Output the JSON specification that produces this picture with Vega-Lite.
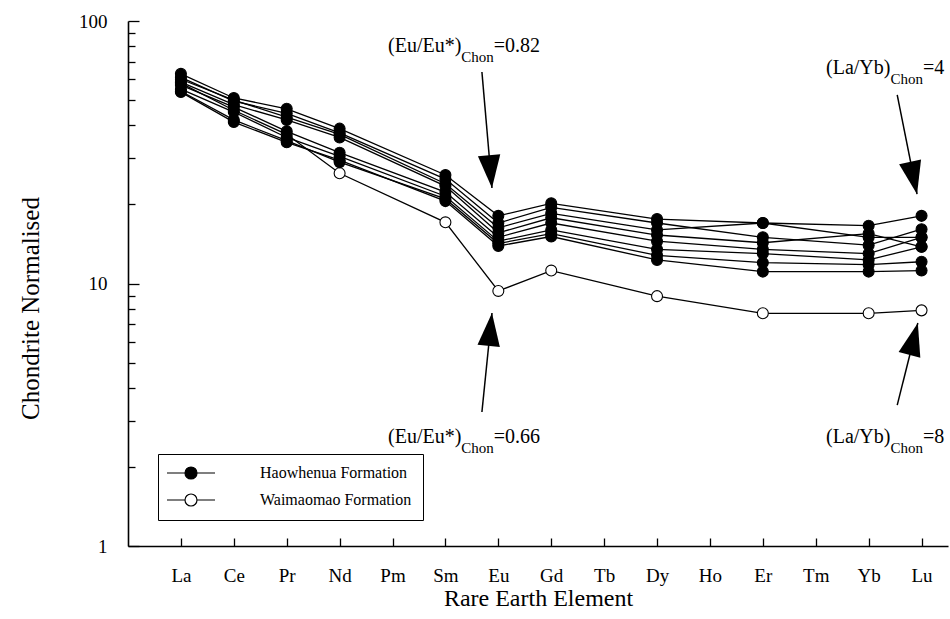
{
  "$schema": "https://vega.github.io/schema/vega-lite/v6.json",
  "autosize": "none",
  "width": 820,
  "height": 525,
  "padding": {"left": 128, "top": 21, "right": 2, "bottom": 73},
  "background": "white",
  "config": {
    "font": "Liberation Serif",
    "view": {"stroke": null},
    "axis": {"labelFont": "Liberation Serif", "titleFont": "Liberation Serif"},
    "legend": {"labelFont": "Liberation Serif"},
    "text": {"font": "Liberation Serif"}
  },
  "datasets": {
    "ree": [
      {"sample":"W1","formation":"Waimaomao Formation","Z":57,"value":58.0},{"sample":"W1","formation":"Waimaomao Formation","Z":58,"value":45.7},{"sample":"W1","formation":"Waimaomao Formation","Z":59,"value":37.0},{"sample":"W1","formation":"Waimaomao Formation","Z":60,"value":26.3},{"sample":"W1","formation":"Waimaomao Formation","Z":62,"value":17.1},{"sample":"W1","formation":"Waimaomao Formation","Z":63,"value":9.37},{"sample":"W1","formation":"Waimaomao Formation","Z":64,"value":11.2},{"sample":"W1","formation":"Waimaomao Formation","Z":66,"value":8.95},{"sample":"W1","formation":"Waimaomao Formation","Z":68,"value":7.7},{"sample":"W1","formation":"Waimaomao Formation","Z":70,"value":7.7},{"sample":"W1","formation":"Waimaomao Formation","Z":71,"value":7.9},
      {"sample":"H1","formation":"Haowhenua Formation","Z":57,"value":62.9},{"sample":"H1","formation":"Haowhenua Formation","Z":58,"value":50.9},{"sample":"H1","formation":"Haowhenua Formation","Z":59,"value":46.3},{"sample":"H1","formation":"Haowhenua Formation","Z":60,"value":38.9},{"sample":"H1","formation":"Haowhenua Formation","Z":62,"value":25.9},{"sample":"H1","formation":"Haowhenua Formation","Z":63,"value":18.1},{"sample":"H1","formation":"Haowhenua Formation","Z":64,"value":20.2},{"sample":"H1","formation":"Haowhenua Formation","Z":66,"value":17.6},{"sample":"H1","formation":"Haowhenua Formation","Z":68,"value":17.0},{"sample":"H1","formation":"Haowhenua Formation","Z":70,"value":16.6},{"sample":"H1","formation":"Haowhenua Formation","Z":71,"value":18.1},
      {"sample":"H2","formation":"Haowhenua Formation","Z":57,"value":61.0},{"sample":"H2","formation":"Haowhenua Formation","Z":58,"value":49.5},{"sample":"H2","formation":"Haowhenua Formation","Z":59,"value":44.5},{"sample":"H2","formation":"Haowhenua Formation","Z":60,"value":37.5},{"sample":"H2","formation":"Haowhenua Formation","Z":62,"value":25.0},{"sample":"H2","formation":"Haowhenua Formation","Z":63,"value":17.0},{"sample":"H2","formation":"Haowhenua Formation","Z":64,"value":19.5},{"sample":"H2","formation":"Haowhenua Formation","Z":66,"value":17.0},{"sample":"H2","formation":"Haowhenua Formation","Z":68,"value":15.0},{"sample":"H2","formation":"Haowhenua Formation","Z":70,"value":14.0},{"sample":"H2","formation":"Haowhenua Formation","Z":71,"value":16.1},
      {"sample":"H3","formation":"Haowhenua Formation","Z":57,"value":60.0},{"sample":"H3","formation":"Haowhenua Formation","Z":58,"value":50.0},{"sample":"H3","formation":"Haowhenua Formation","Z":59,"value":43.0},{"sample":"H3","formation":"Haowhenua Formation","Z":60,"value":37.0},{"sample":"H3","formation":"Haowhenua Formation","Z":62,"value":24.0},{"sample":"H3","formation":"Haowhenua Formation","Z":63,"value":16.3},{"sample":"H3","formation":"Haowhenua Formation","Z":64,"value":18.5},{"sample":"H3","formation":"Haowhenua Formation","Z":66,"value":16.0},{"sample":"H3","formation":"Haowhenua Formation","Z":68,"value":17.0},{"sample":"H3","formation":"Haowhenua Formation","Z":70,"value":15.0},{"sample":"H3","formation":"Haowhenua Formation","Z":71,"value":15.0},
      {"sample":"H4","formation":"Haowhenua Formation","Z":57,"value":58.5},{"sample":"H4","formation":"Haowhenua Formation","Z":58,"value":48.0},{"sample":"H4","formation":"Haowhenua Formation","Z":59,"value":42.0},{"sample":"H4","formation":"Haowhenua Formation","Z":60,"value":36.0},{"sample":"H4","formation":"Haowhenua Formation","Z":62,"value":23.5},{"sample":"H4","formation":"Haowhenua Formation","Z":63,"value":15.6},{"sample":"H4","formation":"Haowhenua Formation","Z":64,"value":17.8},{"sample":"H4","formation":"Haowhenua Formation","Z":66,"value":15.3},{"sample":"H4","formation":"Haowhenua Formation","Z":68,"value":14.3},{"sample":"H4","formation":"Haowhenua Formation","Z":70,"value":15.5},{"sample":"H4","formation":"Haowhenua Formation","Z":71,"value":13.8},
      {"sample":"H5","formation":"Haowhenua Formation","Z":57,"value":57.0},{"sample":"H5","formation":"Haowhenua Formation","Z":58,"value":47.0},{"sample":"H5","formation":"Haowhenua Formation","Z":59,"value":38.0},{"sample":"H5","formation":"Haowhenua Formation","Z":60,"value":31.5},{"sample":"H5","formation":"Haowhenua Formation","Z":62,"value":22.3},{"sample":"H5","formation":"Haowhenua Formation","Z":63,"value":15.0},{"sample":"H5","formation":"Haowhenua Formation","Z":64,"value":17.0},{"sample":"H5","formation":"Haowhenua Formation","Z":66,"value":14.5},{"sample":"H5","formation":"Haowhenua Formation","Z":68,"value":13.5},{"sample":"H5","formation":"Haowhenua Formation","Z":70,"value":13.0},{"sample":"H5","formation":"Haowhenua Formation","Z":71,"value":15.0},
      {"sample":"H6","formation":"Haowhenua Formation","Z":57,"value":55.0},{"sample":"H6","formation":"Haowhenua Formation","Z":58,"value":45.0},{"sample":"H6","formation":"Haowhenua Formation","Z":59,"value":36.0},{"sample":"H6","formation":"Haowhenua Formation","Z":60,"value":30.5},{"sample":"H6","formation":"Haowhenua Formation","Z":62,"value":21.5},{"sample":"H6","formation":"Haowhenua Formation","Z":63,"value":14.5},{"sample":"H6","formation":"Haowhenua Formation","Z":64,"value":16.0},{"sample":"H6","formation":"Haowhenua Formation","Z":66,"value":13.5},{"sample":"H6","formation":"Haowhenua Formation","Z":68,"value":13.0},{"sample":"H6","formation":"Haowhenua Formation","Z":70,"value":12.3},{"sample":"H6","formation":"Haowhenua Formation","Z":71,"value":13.8},
      {"sample":"H7","formation":"Haowhenua Formation","Z":57,"value":54.0},{"sample":"H7","formation":"Haowhenua Formation","Z":58,"value":42.0},{"sample":"H7","formation":"Haowhenua Formation","Z":59,"value":35.0},{"sample":"H7","formation":"Haowhenua Formation","Z":60,"value":29.0},{"sample":"H7","formation":"Haowhenua Formation","Z":62,"value":21.0},{"sample":"H7","formation":"Haowhenua Formation","Z":63,"value":14.2},{"sample":"H7","formation":"Haowhenua Formation","Z":64,"value":15.5},{"sample":"H7","formation":"Haowhenua Formation","Z":66,"value":12.8},{"sample":"H7","formation":"Haowhenua Formation","Z":68,"value":12.0},{"sample":"H7","formation":"Haowhenua Formation","Z":70,"value":11.8},{"sample":"H7","formation":"Haowhenua Formation","Z":71,"value":12.1},
      {"sample":"H8","formation":"Haowhenua Formation","Z":57,"value":53.6},{"sample":"H8","formation":"Haowhenua Formation","Z":58,"value":41.2},{"sample":"H8","formation":"Haowhenua Formation","Z":59,"value":34.5},{"sample":"H8","formation":"Haowhenua Formation","Z":60,"value":29.5},{"sample":"H8","formation":"Haowhenua Formation","Z":62,"value":20.6},{"sample":"H8","formation":"Haowhenua Formation","Z":63,"value":13.9},{"sample":"H8","formation":"Haowhenua Formation","Z":64,"value":15.1},{"sample":"H8","formation":"Haowhenua Formation","Z":66,"value":12.3},{"sample":"H8","formation":"Haowhenua Formation","Z":68,"value":11.1},{"sample":"H8","formation":"Haowhenua Formation","Z":70,"value":11.1},{"sample":"H8","formation":"Haowhenua Formation","Z":71,"value":11.2}
    ],
    "notes": [
      {"id":"eu_top","part":"main","text":"(Eu/Eu*)","Z":60.915,"value":80.3},
      {"id":"eu_top","part":"sub","text":"Chon","Z":62.30,"value":72.9},
      {"id":"eu_top","part":"tail","text":"=0.82","Z":62.915,"value":80.3},
      {"id":"eu_bot","part":"main","text":"(Eu/Eu*)","Z":60.915,"value":2.60},
      {"id":"eu_bot","part":"sub","text":"Chon","Z":62.30,"value":2.36},
      {"id":"eu_bot","part":"tail","text":"=0.66","Z":62.915,"value":2.60},
      {"id":"layb_top","part":"main","text":"(La/Yb)","Z":69.195,"value":66.2},
      {"id":"layb_top","part":"sub","text":"Chon","Z":70.412,"value":60.1},
      {"id":"layb_top","part":"tail","text":"=4","Z":71.026,"value":66.2},
      {"id":"layb_bot","part":"main","text":"(La/Yb)","Z":69.195,"value":2.60},
      {"id":"layb_bot","part":"sub","text":"Chon","Z":70.412,"value":2.36},
      {"id":"layb_bot","part":"tail","text":"=8","Z":71.026,"value":2.60}
    ],
    "arrows": [
      {"id":"eu_top","Z1":62.69,"v1":63.9,"Z2":62.88,"v2":23.1},
      {"id":"eu_bot","Z1":62.69,"v1":3.24,"Z2":62.88,"v2":7.72},
      {"id":"layb_top","Z1":70.54,"v1":52.3,"Z2":70.915,"v2":21.9},
      {"id":"layb_bot","Z1":70.54,"v1":3.44,"Z2":70.93,"v2":7.07}
    ]
  },
  "layer": [
    {
      "data": {"name": "ree"},
      "mark": {"type": "line", "color": "black", "strokeWidth": 1.3},
      "encoding": {
        "x": {"field": "Z", "type": "quantitative",
          "scale": {"domain": [56, 71.5], "nice": false, "zero": false},
          "axis": {
            "values": [57,58,59,60,61,62,63,64,65,66,67,68,69,70,71],
            "labelExpr": "['La','Ce','Pr','Nd','Pm','Sm','Eu','Gd','Tb','Dy','Ho','Er','Tm','Yb','Lu'][datum.value-57]",
            "title": "Rare Earth Element", "grid": false,
            "tickSize": -8, "tickColor": "black", "tickWidth": 1.3,
            "domainColor": "black", "domainWidth": 1.6,
            "labelFont": "Liberation Serif", "labelFontSize": 19, "labelColor": "black",
            "labelPadding": 28, "labelFlush": false, "labelOverlap": false,
            "titleFont": "Liberation Serif", "titleFontSize": 24, "titleFontWeight": "normal", "titleColor": "black",
            "titleBaseline": "middle", "titleY": 52
          }},
        "y": {"field": "value", "type": "quantitative",
          "scale": {"type": "log", "domain": [1, 100], "nice": false},
          "axis": {
            "values": [1,2,3,4,5,6,7,8,9,10,20,30,40,50,60,70,80,90,100],
            "labelExpr": "datum.value == 1 ? '1' : datum.value == 10 ? '10' : datum.value == 100 ? '100' : ''",
            "title": "Chondrite Normalised", "grid": false,
            "tickSize": {"condition": {"test": "datum.value == 1 || datum.value == 10 || datum.value == 100", "value": -11}, "value": -7},
            "tickColor": "black", "tickWidth": 1.3,
            "domainColor": "black", "domainWidth": 1.6,
            "labelFont": "Liberation Serif", "labelFontSize": 19, "labelColor": "black",
            "labelPadding": 32, "labelFlush": false, "labelOverlap": false,
            "titleFont": "Liberation Serif", "titleFontSize": 25, "titleFontWeight": "normal", "titleColor": "black",
            "titleBaseline": "middle", "titleX": -98, "titleY": 287
          }},
        "detail": {"field": "sample"}
      }
    },
    {
      "data": {"name": "ree"},
      "mark": {"type": "point", "shape": "circle", "filled": true, "stroke": "black", "strokeWidth": 1.1, "opacity": 1, "size": 120},
      "encoding": {
        "x": {"field": "Z", "type": "quantitative"},
        "y": {"field": "value", "type": "quantitative"},
        "fill": {"field": "formation", "type": "nominal",
          "scale": {"domain": ["Haowhenua Formation", "Waimaomao Formation"], "range": ["black", "white"]},
          "legend": {
            "orient": "none", "legendX": 30, "legendY": 433, "title": null,
            "symbolType": "M-4,0L-1,0M1,0L4,0M1,0A1,1,0,1,1,-1,0A1,1,0,1,1,1,0Z",
            "symbolSize": 144, "symbolStrokeColor": "black", "symbolStrokeWidth": 1.2,
            "labelFont": "Liberation Serif", "labelFontSize": 16, "labelColor": "black",
            "strokeColor": "black", "fillColor": "white", "padding": 11,
            "rowPadding": 9, "symbolOffset": 14, "labelOffset": 61
          }}
      }
    },
    {
      "data": {"name": "arrows"},
      "mark": {"type": "rule", "color": "black", "strokeWidth": 1.5},
      "encoding": {
        "x": {"field": "Z1", "type": "quantitative"},
        "y": {"field": "v1", "type": "quantitative"},
        "x2": {"field": "Z2"},
        "y2": {"field": "v2"}
      }
    },
    {
      "data": {"name": "arrows"},
      "transform": [{"filter": "datum.id == 'eu_top'"}],
      "mark": {"type": "point", "shape": "M0,0L-0.34,-1L0.34,-1Z", "filled": true, "color": "black", "opacity": 1, "size": 4356, "angle": 355},
      "encoding": {"x": {"field": "Z2", "type": "quantitative"}, "y": {"field": "v2", "type": "quantitative"}}
    },
    {
      "data": {"name": "arrows"},
      "transform": [{"filter": "datum.id == 'eu_bot'"}],
      "mark": {"type": "point", "shape": "M0,0L-0.34,-1L0.34,-1Z", "filled": true, "color": "black", "opacity": 1, "size": 4356, "angle": 185.7},
      "encoding": {"x": {"field": "Z2", "type": "quantitative"}, "y": {"field": "v2", "type": "quantitative"}}
    },
    {
      "data": {"name": "arrows"},
      "transform": [{"filter": "datum.id == 'layb_top'"}],
      "mark": {"type": "point", "shape": "M0,0L-0.34,-1L0.34,-1Z", "filled": true, "color": "black", "opacity": 1, "size": 4356, "angle": 347.8},
      "encoding": {"x": {"field": "Z2", "type": "quantitative"}, "y": {"field": "v2", "type": "quantitative"}}
    },
    {
      "data": {"name": "arrows"},
      "transform": [{"filter": "datum.id == 'layb_bot'"}],
      "mark": {"type": "point", "shape": "M0,0L-0.34,-1L0.34,-1Z", "filled": true, "color": "black", "opacity": 1, "size": 4356, "angle": 194.7},
      "encoding": {"x": {"field": "Z2", "type": "quantitative"}, "y": {"field": "v2", "type": "quantitative"}}
    },
    {
      "data": {"name": "notes"},
      "transform": [{"filter": "datum.part != 'sub'"}],
      "mark": {"type": "text", "align": "left", "baseline": "middle", "font": "Liberation Serif", "fontSize": 20, "color": "black"},
      "encoding": {
        "x": {"field": "Z", "type": "quantitative"},
        "y": {"field": "value", "type": "quantitative"},
        "text": {"field": "text"}
      }
    },
    {
      "data": {"name": "notes"},
      "transform": [{"filter": "datum.part == 'sub'"}],
      "mark": {"type": "text", "align": "left", "baseline": "middle", "font": "Liberation Serif", "fontSize": 15, "color": "black"},
      "encoding": {
        "x": {"field": "Z", "type": "quantitative"},
        "y": {"field": "value", "type": "quantitative"},
        "text": {"field": "text"}
      }
    }
  ]
}
